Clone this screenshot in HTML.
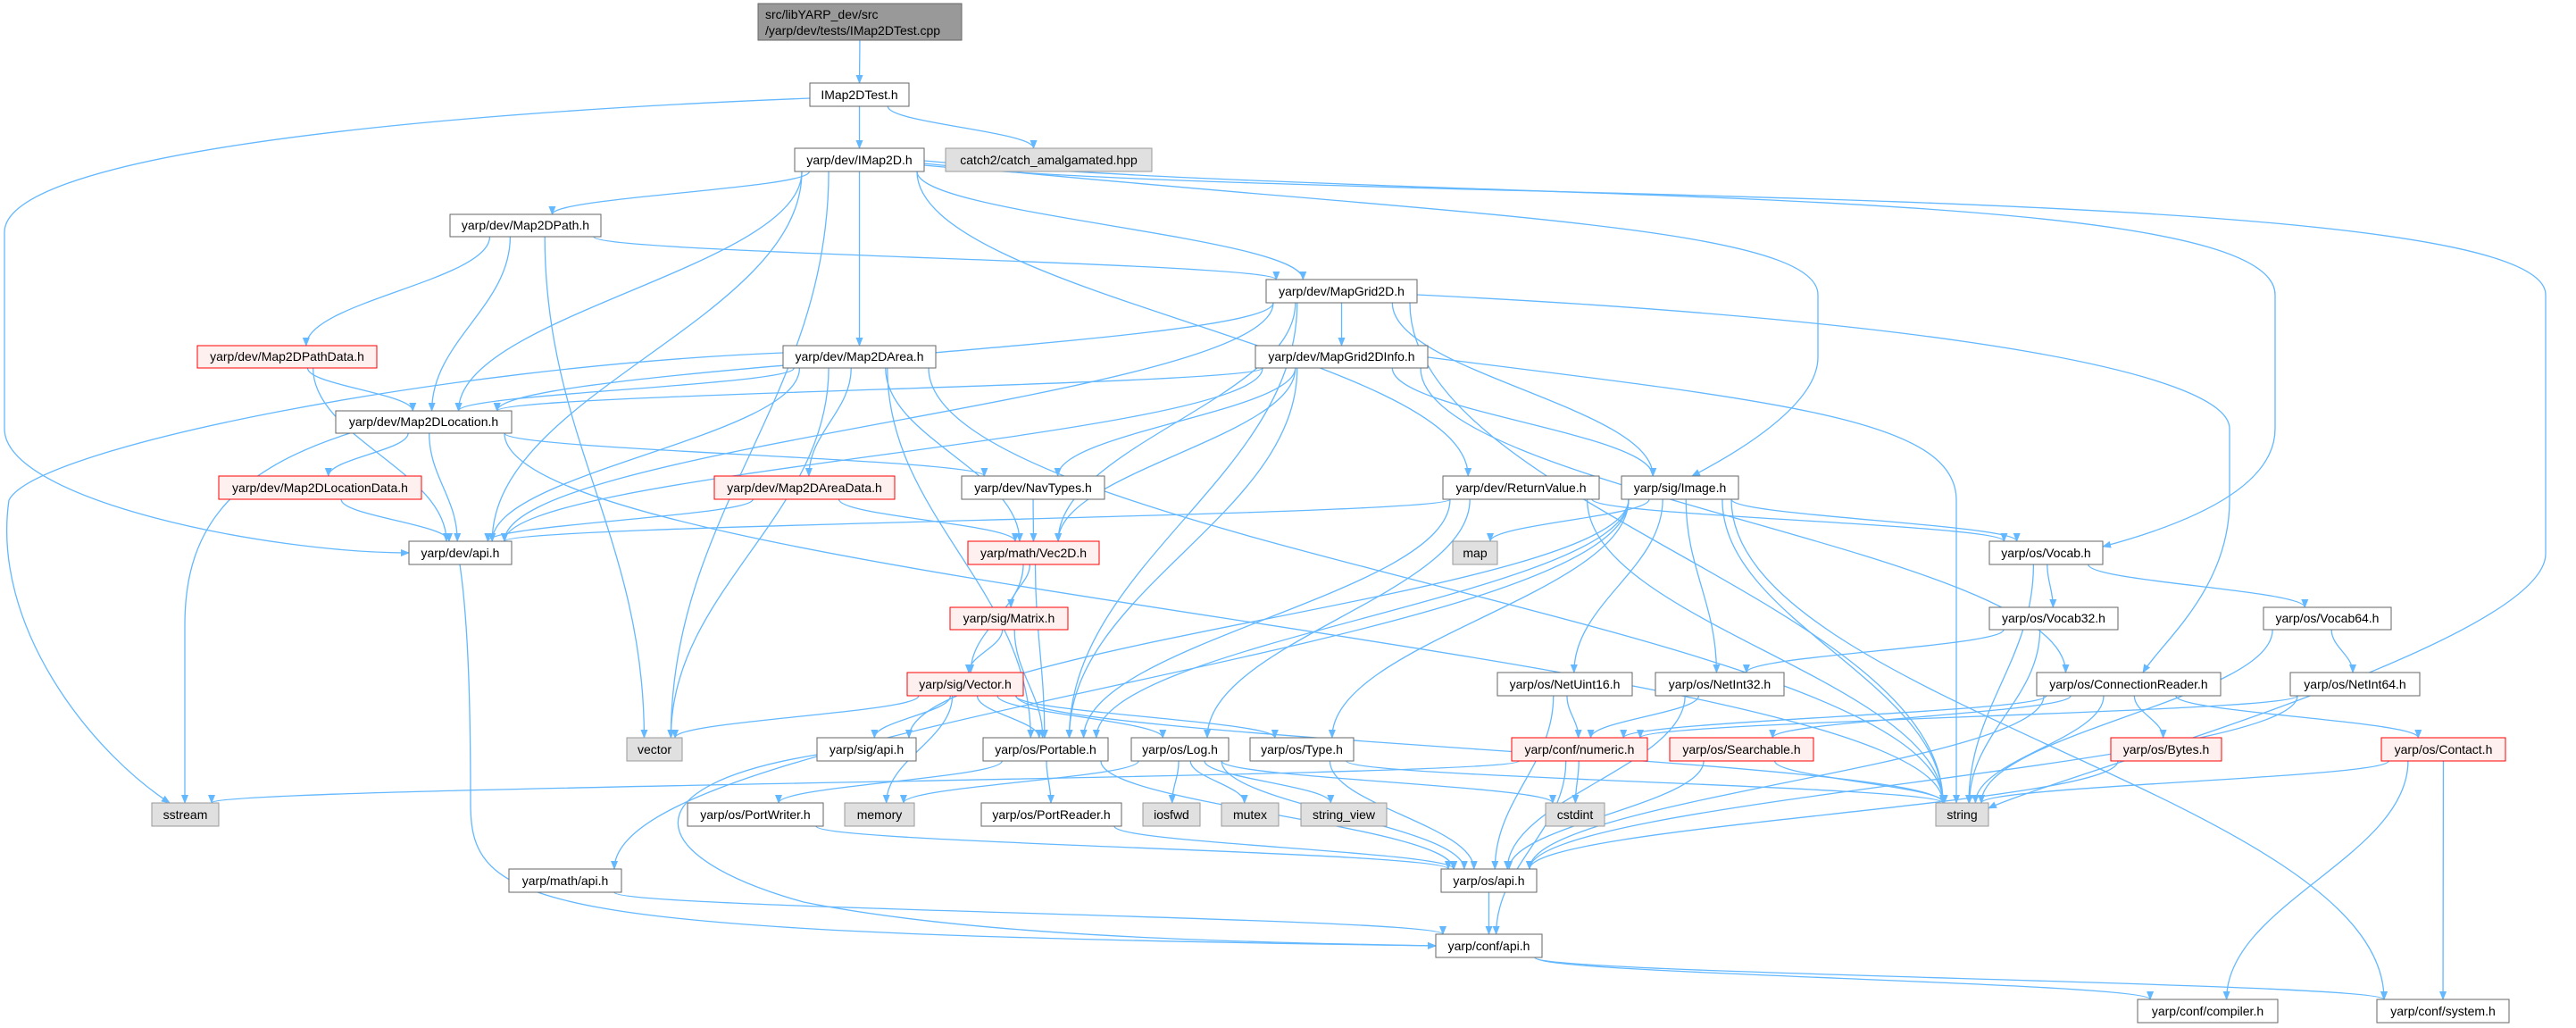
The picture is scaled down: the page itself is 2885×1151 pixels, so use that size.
<!DOCTYPE html>
<html><head><meta charset="utf-8"><style>
html,body{margin:0;padding:0;background:#fff;}
svg{display:block;}
</style></head><body>
<svg id="g" xmlns="http://www.w3.org/2000/svg" width="2885" height="1151" viewBox="0 0 2885 1151">
<defs><marker id="ar" viewBox="0 0 10 10" refX="9" refY="5" markerWidth="10" markerHeight="10" markerUnits="userSpaceOnUse" orient="auto"><path d="M0,1 L10,5 L0,9 z" fill="#63b8ff"/></marker></defs>
<g id="edges" fill="none" stroke="#63b8ff" stroke-width="1.3"></g>
</svg>
<script>
var N={
root:[849,4,228,41],t:[907,93,111,26],im:[890,166,145,26],catch:[1059,166,231,26],
path:[504,240,169,25],pathd:[221,387,201,25],area:[877,387,171,25],loc:[376,460,197,25],
locd:[245,533,227,26],aread:[800,533,202,26],grid:[1418,313,169,26],gridi:[1406,387,193,25],
nav:[1077,533,160,26],ret:[1616,533,175,26],img:[1816,533,131,26],devapi:[458,606,115,26],
vec2d:[1084,606,147,26],map:[1627,606,50,26],vocab:[2228,606,127,26],matrix:[1064,680,132,25],
voc32:[2228,680,144,25],voc64:[2535,680,143,25],vector:[1016,753,130,26],nu16:[1677,753,151,26],
ni32:[1854,753,144,26],conn:[2281,753,206,26],ni64:[2565,753,145,26],stdvector:[702,826,62,26],
sigapi:[915,826,111,26],port:[1101,826,140,26],log:[1267,826,109,26],type:[1400,826,116,26],
num:[1693,826,152,26],search:[1870,826,161,26],bytes:[2364,826,124,26],contact:[2667,826,139,26],
sstream:[170,899,75,26],pw:[770,899,152,26],memory:[946,899,78,26],pr:[1099,899,157,26],
iosfwd:[1280,899,64,26],mutex:[1368,899,64,26],sv:[1457,899,96,26],cstdint:[1731,899,66,26],
string:[2168,899,59,26],mathapi:[570,973,126,26],osapi:[1614,973,107,26],confapi:[1608,1046,119,26],
comp:[2394,1119,157,26],sys:[2662,1119,148,26]};
var O={
't devapi':'M907,110 C400,130 5,180 5,260 L5,480 C5,560 300,619 458,619',
'im string':'M1035,185 C1500,230 2851,200 2851,330 L2851,620 C2851,720 2300,870 2227,905',
'im vocab':'M1035,180 C1600,230 2548,200 2548,330 L2548,480 C2548,560 2400,600 2355,612',
'im img':'M1035,183 C1600,240 2036,250 2036,330 L2036,400 C2036,460 1920,520 1895,533',
'grid conn':'M1587,330 C2200,360 2497,420 2497,480 L2497,560 C2497,660 2420,720 2400,753',
'gridi string':'M1599,400 C2000,450 2191,470 2191,560 L2191,899',
'devapi confapi':'M515,632 C525,700 527,800 527,900 C527,1020 600,1045 1608,1059',
'sigapi confapi':'M915,845 C700,880 720,960 900,1010 C1100,1050 1400,1055 1608,1059',
'loc sstream':'M392,485 C250,530 207,600 207,700 L207,899',
'area sstream':'M877,395 C500,410 40,500 10,560 C-10,700 100,840 190,899'
};
var E="root t|t im|t catch|t devapi|im path|im area|im grid|im loc|im devapi|im stdvector|im ret|im img|im vocab|im string|path pathd|path loc|path stdvector|path grid|pathd loc|pathd devapi|area loc|area devapi|area aread|area vec2d|area stdvector|area port|area string|area sstream|loc locd|loc devapi|loc sstream|loc nav|loc string|locd devapi|aread devapi|aread vec2d|grid gridi|grid devapi|grid vec2d|grid img|grid port|grid string|grid conn|grid loc|gridi loc|gridi devapi|gridi nav|gridi vec2d|gridi port|gridi img|gridi string|gridi conn|nav vec2d|ret devapi|ret port|ret log|ret vocab|ret string|img vocab|img port|img type|img map|img nu16|img ni32|img mathapi|img sigapi|img sys|img string|vec2d matrix|vec2d vector|vec2d port|matrix vector|matrix port|vector sigapi|vector port|vector log|vector type|vector stdvector|vector memory|vector string|sigapi confapi|port pw|port pr|port osapi|pw osapi|pr osapi|log iosfwd|log mutex|log sv|log cstdint|log osapi|log memory|type osapi|type string|num cstdint|num confapi|num sstream|nu16 num|nu16 osapi|ni32 num|ni32 osapi|search osapi|search string|vocab voc32|vocab voc64|vocab string|voc32 ni32|voc32 string|voc64 ni64|voc64 string|ni64 num|ni64 osapi|conn search|conn bytes|conn contact|conn string|conn num|conn osapi|bytes osapi|contact string|contact comp|contact sys|osapi confapi|confapi comp|confapi sys|mathapi confapi|devapi confapi";
var ns="http://www.w3.org/2000/svg",eg=document.getElementById('edges');
function cl(v,a,b){return Math.max(a,Math.min(b,v));}
E.split('|').forEach(function(s){var p=s.split(' '),a=N[p[0]],b=N[p[1]];
var acx=a[0]+a[2]/2,bcx=b[0]+b[2]/2,d=O[s];
if(!d){
if(b[1]>a[1]+a[3]){var sx=cl(acx+(bcx-acx)*0.15,a[0]+8,a[0]+a[2]-8),sy=a[1]+a[3];
var ex=cl(bcx+(acx-bcx)*0.08,b[0]+8,b[0]+b[2]-8),ey=b[1];var dy=ey-sy;
d='M'+sx+','+sy+' C'+sx+','+(sy+dy*0.4)+' '+ex+','+(ey-dy*0.4)+' '+ex+','+ey;}
else{var right=bcx>acx;var sx=right?a[0]+a[2]:a[0],sy=a[1]+a[3]/2,ex=right?b[0]:b[0]+b[2],ey=b[1]+b[3]/2;
d='M'+sx+','+sy+' C'+((sx+ex)/2)+','+sy+' '+((sx+ex)/2)+','+ey+' '+ex+','+ey;}}
var pa=document.createElementNS(ns,'path');pa.setAttribute('d',d);pa.setAttribute('marker-end','url(#ar)');eg.appendChild(pa);});
</script>
<svg style="position:absolute;left:0;top:0" xmlns="http://www.w3.org/2000/svg" width="2885" height="1151">
<g font-family="Liberation Sans, sans-serif" font-size="14" text-anchor="middle">
<rect x="849" y="4" width="228" height="41" fill="#999" stroke="#666"/>
<text x="857" y="21" text-anchor="start">src/libYARP_dev/src</text><text x="857" y="39" text-anchor="start">/yarp/dev/tests/IMap2DTest.cpp</text>
<rect x="907" y="93" width="111" height="26" fill="#fff" stroke="#666"/><text x="962.5" y="111">IMap2DTest.h</text>
<rect x="890" y="166" width="145" height="26" fill="#fff" stroke="#666"/><text x="962.5" y="184">yarp/dev/IMap2D.h</text>
<rect x="1059" y="166" width="231" height="26" fill="#e0e0e0" stroke="#999"/><text x="1174.5" y="184">catch2/catch_amalgamated.hpp</text>
<rect x="504" y="240" width="169" height="25" fill="#fff" stroke="#666"/><text x="588.5" y="257">yarp/dev/Map2DPath.h</text>
<rect x="221" y="387" width="201" height="25" fill="#fff0f0" stroke="#f00"/><text x="321.5" y="404">yarp/dev/Map2DPathData.h</text>
<rect x="877" y="387" width="171" height="25" fill="#fff" stroke="#666"/><text x="962.5" y="404">yarp/dev/Map2DArea.h</text>
<rect x="376" y="460" width="197" height="25" fill="#fff" stroke="#666"/><text x="474.5" y="477">yarp/dev/Map2DLocation.h</text>
<rect x="245" y="533" width="227" height="26" fill="#fff0f0" stroke="#f00"/><text x="358.5" y="551">yarp/dev/Map2DLocationData.h</text>
<rect x="800" y="533" width="202" height="26" fill="#fff0f0" stroke="#f00"/><text x="901" y="551">yarp/dev/Map2DAreaData.h</text>
<rect x="1418" y="313" width="169" height="26" fill="#fff" stroke="#666"/><text x="1502.5" y="331">yarp/dev/MapGrid2D.h</text>
<rect x="1406" y="387" width="193" height="25" fill="#fff" stroke="#666"/><text x="1502.5" y="404">yarp/dev/MapGrid2DInfo.h</text>
<rect x="1077" y="533" width="160" height="26" fill="#fff" stroke="#666"/><text x="1157" y="551">yarp/dev/NavTypes.h</text>
<rect x="1616" y="533" width="175" height="26" fill="#fff" stroke="#666"/><text x="1703.5" y="551">yarp/dev/ReturnValue.h</text>
<rect x="1816" y="533" width="131" height="26" fill="#fff" stroke="#666"/><text x="1881.5" y="551">yarp/sig/Image.h</text>
<rect x="458" y="606" width="115" height="26" fill="#fff" stroke="#666"/><text x="515.5" y="624">yarp/dev/api.h</text>
<rect x="1084" y="606" width="147" height="26" fill="#fff0f0" stroke="#f00"/><text x="1157.5" y="624">yarp/math/Vec2D.h</text>
<rect x="1627" y="606" width="50" height="26" fill="#e0e0e0" stroke="#999"/><text x="1652" y="624">map</text>
<rect x="2228" y="606" width="127" height="26" fill="#fff" stroke="#666"/><text x="2291.5" y="624">yarp/os/Vocab.h</text>
<rect x="1064" y="680" width="132" height="25" fill="#fff0f0" stroke="#f00"/><text x="1130" y="697">yarp/sig/Matrix.h</text>
<rect x="2228" y="680" width="144" height="25" fill="#fff" stroke="#666"/><text x="2300" y="697">yarp/os/Vocab32.h</text>
<rect x="2535" y="680" width="143" height="25" fill="#fff" stroke="#666"/><text x="2606.5" y="697">yarp/os/Vocab64.h</text>
<rect x="1016" y="753" width="130" height="26" fill="#fff0f0" stroke="#f00"/><text x="1081" y="771">yarp/sig/Vector.h</text>
<rect x="1677" y="753" width="151" height="26" fill="#fff" stroke="#666"/><text x="1752.5" y="771">yarp/os/NetUint16.h</text>
<rect x="1854" y="753" width="144" height="26" fill="#fff" stroke="#666"/><text x="1926" y="771">yarp/os/NetInt32.h</text>
<rect x="2281" y="753" width="206" height="26" fill="#fff" stroke="#666"/><text x="2384" y="771">yarp/os/ConnectionReader.h</text>
<rect x="2565" y="753" width="145" height="26" fill="#fff" stroke="#666"/><text x="2637.5" y="771">yarp/os/NetInt64.h</text>
<rect x="702" y="826" width="62" height="26" fill="#e0e0e0" stroke="#999"/><text x="733" y="844">vector</text>
<rect x="915" y="826" width="111" height="26" fill="#fff" stroke="#666"/><text x="970.5" y="844">yarp/sig/api.h</text>
<rect x="1101" y="826" width="140" height="26" fill="#fff" stroke="#666"/><text x="1171" y="844">yarp/os/Portable.h</text>
<rect x="1267" y="826" width="109" height="26" fill="#fff" stroke="#666"/><text x="1321.5" y="844">yarp/os/Log.h</text>
<rect x="1400" y="826" width="116" height="26" fill="#fff" stroke="#666"/><text x="1458" y="844">yarp/os/Type.h</text>
<rect x="1693" y="826" width="152" height="26" fill="#fff0f0" stroke="#f00"/><text x="1769" y="844">yarp/conf/numeric.h</text>
<rect x="1870" y="826" width="161" height="26" fill="#fff0f0" stroke="#f00"/><text x="1950.5" y="844">yarp/os/Searchable.h</text>
<rect x="2364" y="826" width="124" height="26" fill="#fff0f0" stroke="#f00"/><text x="2426" y="844">yarp/os/Bytes.h</text>
<rect x="2667" y="826" width="139" height="26" fill="#fff0f0" stroke="#f00"/><text x="2736.5" y="844">yarp/os/Contact.h</text>
<rect x="170" y="899" width="75" height="26" fill="#e0e0e0" stroke="#999"/><text x="207.5" y="917">sstream</text>
<rect x="770" y="899" width="152" height="26" fill="#fff" stroke="#666"/><text x="846" y="917">yarp/os/PortWriter.h</text>
<rect x="946" y="899" width="78" height="26" fill="#e0e0e0" stroke="#999"/><text x="985" y="917">memory</text>
<rect x="1099" y="899" width="157" height="26" fill="#fff" stroke="#666"/><text x="1177.5" y="917">yarp/os/PortReader.h</text>
<rect x="1280" y="899" width="64" height="26" fill="#e0e0e0" stroke="#999"/><text x="1312" y="917">iosfwd</text>
<rect x="1368" y="899" width="64" height="26" fill="#e0e0e0" stroke="#999"/><text x="1400" y="917">mutex</text>
<rect x="1457" y="899" width="96" height="26" fill="#e0e0e0" stroke="#999"/><text x="1505" y="917">string_view</text>
<rect x="1731" y="899" width="66" height="26" fill="#e0e0e0" stroke="#999"/><text x="1764" y="917">cstdint</text>
<rect x="2168" y="899" width="59" height="26" fill="#e0e0e0" stroke="#999"/><text x="2197.5" y="917">string</text>
<rect x="570" y="973" width="126" height="26" fill="#fff" stroke="#666"/><text x="633" y="991">yarp/math/api.h</text>
<rect x="1614" y="973" width="107" height="26" fill="#fff" stroke="#666"/><text x="1667.5" y="991">yarp/os/api.h</text>
<rect x="1608" y="1046" width="119" height="26" fill="#fff" stroke="#666"/><text x="1667.5" y="1064">yarp/conf/api.h</text>
<rect x="2394" y="1119" width="157" height="26" fill="#fff" stroke="#666"/><text x="2472.5" y="1137">yarp/conf/compiler.h</text>
<rect x="2662" y="1119" width="148" height="26" fill="#fff" stroke="#666"/><text x="2736" y="1137">yarp/conf/system.h</text>
</g></svg>
</body></html>
